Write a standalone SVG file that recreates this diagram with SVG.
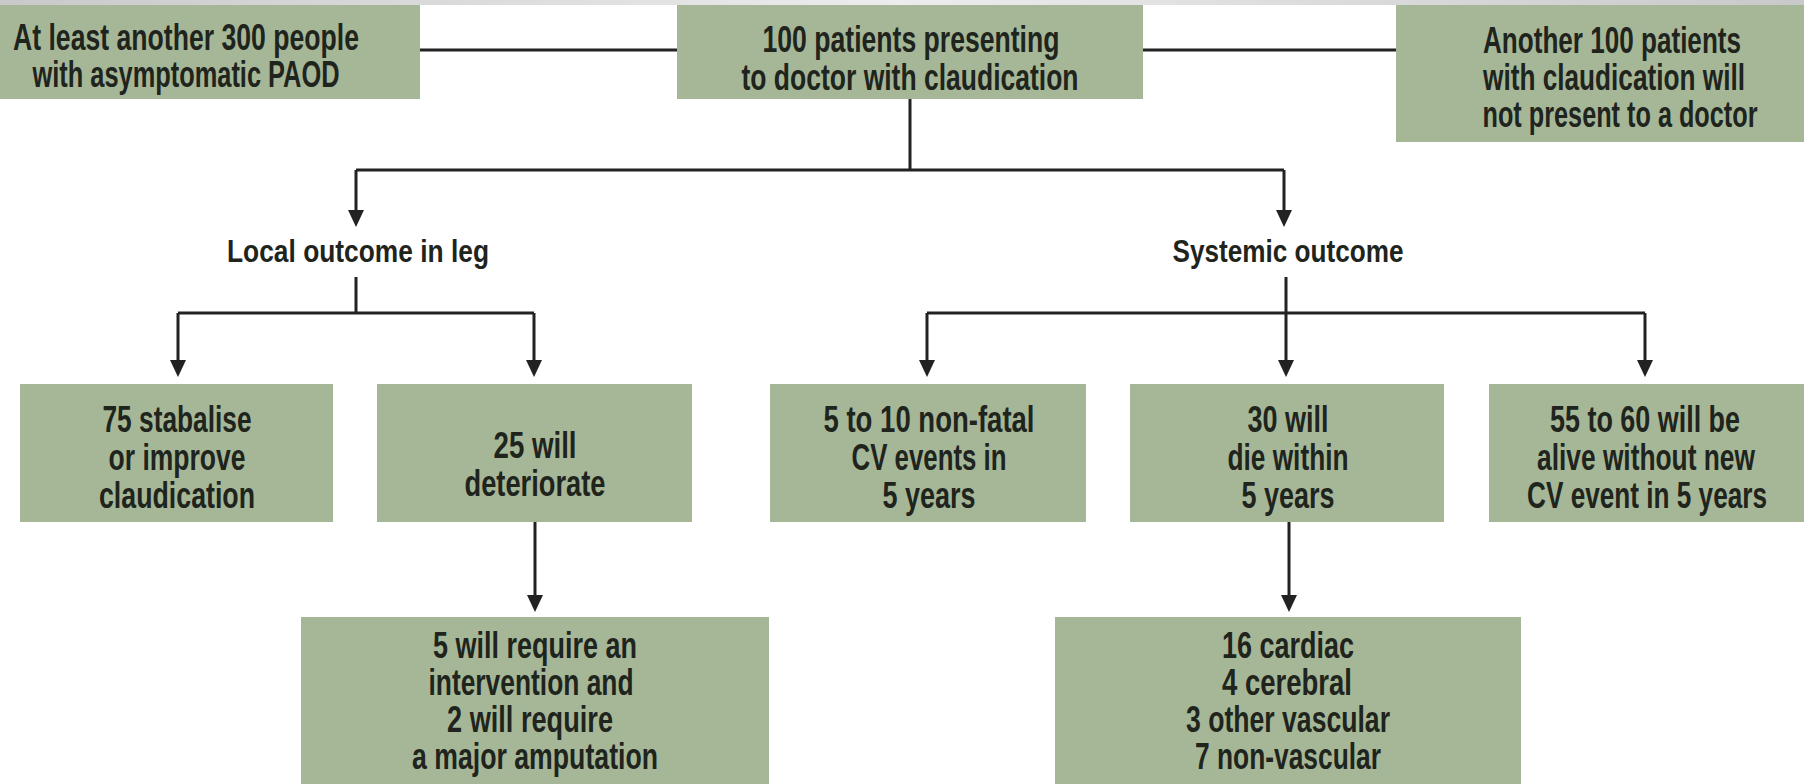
<svg xmlns="http://www.w3.org/2000/svg" width="1804" height="784" viewBox="0 0 1804 784">
<defs>
<linearGradient id="band" x1="0" y1="0" x2="1" y2="0">
<stop offset="0" stop-color="#c9c9c9"/>
<stop offset="0.5" stop-color="#ececec"/>
<stop offset="1" stop-color="#c9c9c9"/>
</linearGradient>
<marker id="arr" viewBox="0 0 17 16" markerWidth="17" markerHeight="16" refX="1" refY="8" orient="auto" markerUnits="userSpaceOnUse">
<path d="M0,0 L17,8 L0,16 z" fill="#222"/>
</marker>
<style>
.box{fill:#a6b798}
.t{font-family:"Liberation Sans",Arial,sans-serif;font-weight:bold;font-size:28px;fill:#1f241d;text-anchor:middle}
.c{fill:none;stroke:#222;stroke-width:3}
.a{fill:none;stroke:#222;stroke-width:3;marker-end:url(#arr)}
</style>
</defs>
<rect x="0" y="0" width="1804" height="784" fill="#ffffff"/>
<rect x="0" y="0" width="1804" height="5" fill="url(#band)"/>

<g id="connectors">
<line class="c" x1="420" y1="50" x2="677" y2="50"/>
<line class="c" x1="1143" y1="50" x2="1396" y2="50"/>
<line class="c" x1="910" y1="99" x2="910" y2="170"/>
<polyline class="c" points="356,170 1284,170"/>
<line class="a" x1="356" y1="170" x2="356" y2="211"/>
<line class="a" x1="1284" y1="170" x2="1284" y2="211"/>
<line class="c" x1="356" y1="277" x2="356" y2="313"/>
<polyline class="c" points="178,313 534,313"/>
<line class="a" x1="178" y1="313" x2="178" y2="361"/>
<line class="a" x1="534" y1="313" x2="534" y2="361"/>
<line class="c" x1="1286" y1="277" x2="1286" y2="313"/>
<polyline class="c" points="927,313 1645,313"/>
<line class="a" x1="927" y1="313" x2="927" y2="361"/>
<line class="a" x1="1286" y1="313" x2="1286" y2="361"/>
<line class="a" x1="1645" y1="313" x2="1645" y2="361"/>
<line class="a" x1="535" y1="522" x2="535" y2="596"/>
<line class="a" x1="1289" y1="522" x2="1289" y2="596"/>
</g>

<g id="asymptomatic">
<rect class="box" x="0" y="5" width="420" height="94"/>
<text class="t" transform="translate(186,50) scale(1,1.3)" textLength="346" lengthAdjust="spacingAndGlyphs">At least another 300 people</text>
<text class="t" transform="translate(186,87) scale(1,1.3)" textLength="307" lengthAdjust="spacingAndGlyphs">with asymptomatic PAOD</text>
</g>

<g id="presenting">
<rect class="box" x="677" y="5" width="466" height="94"/>
<text class="t" transform="translate(911,52) scale(1,1.3)" textLength="297" lengthAdjust="spacingAndGlyphs">100 patients presenting</text>
<text class="t" transform="translate(910,90) scale(1,1.3)" textLength="337" lengthAdjust="spacingAndGlyphs">to doctor with claudication</text>
</g>

<g id="not-presenting">
<rect class="box" x="1396" y="5" width="408" height="137"/>
<text class="t" transform="translate(1612,53) scale(1,1.3)" textLength="258" lengthAdjust="spacingAndGlyphs">Another 100 patients</text>
<text class="t" transform="translate(1614,90) scale(1,1.3)" textLength="262" lengthAdjust="spacingAndGlyphs">with claudication will</text>
<text class="t" transform="translate(1620,127) scale(1,1.3)" textLength="275" lengthAdjust="spacingAndGlyphs">not present to a doctor</text>
</g>

<g id="local">
<text class="t" transform="translate(358,262) scale(1,1.15)" textLength="262" lengthAdjust="spacingAndGlyphs">Local outcome in leg</text>
</g>

<g id="systemic">
<text class="t" transform="translate(1288,262) scale(1,1.15)" textLength="231" lengthAdjust="spacingAndGlyphs">Systemic outcome</text>
</g>

<g id="stabilise">
<rect class="box" x="20" y="384" width="313" height="138"/>
<text class="t" transform="translate(177,432) scale(1,1.3)" textLength="149" lengthAdjust="spacingAndGlyphs">75 stabalise</text>
<text class="t" transform="translate(177,470) scale(1,1.3)" textLength="137" lengthAdjust="spacingAndGlyphs">or improve</text>
<text class="t" transform="translate(177,508) scale(1,1.3)" textLength="156" lengthAdjust="spacingAndGlyphs">claudication</text>
</g>

<g id="deteriorate">
<rect class="box" x="377" y="384" width="315" height="138"/>
<text class="t" transform="translate(535,458) scale(1,1.3)" textLength="83" lengthAdjust="spacingAndGlyphs">25 will</text>
<text class="t" transform="translate(535,496) scale(1,1.3)" textLength="141" lengthAdjust="spacingAndGlyphs">deteriorate</text>
</g>

<g id="nonfatal">
<rect class="box" x="770" y="384" width="316" height="138"/>
<text class="t" transform="translate(929,432) scale(1,1.3)" textLength="211" lengthAdjust="spacingAndGlyphs">5 to 10 non-fatal</text>
<text class="t" transform="translate(929,470) scale(1,1.3)" textLength="155" lengthAdjust="spacingAndGlyphs">CV events in</text>
<text class="t" transform="translate(929,508) scale(1,1.3)" textLength="93" lengthAdjust="spacingAndGlyphs">5 years</text>
</g>

<g id="die">
<rect class="box" x="1130" y="384" width="314" height="138"/>
<text class="t" transform="translate(1288,432) scale(1,1.3)" textLength="81" lengthAdjust="spacingAndGlyphs">30 will</text>
<text class="t" transform="translate(1288,470) scale(1,1.3)" textLength="121" lengthAdjust="spacingAndGlyphs">die within</text>
<text class="t" transform="translate(1288,508) scale(1,1.3)" textLength="93" lengthAdjust="spacingAndGlyphs">5 years</text>
</g>

<g id="alive">
<rect class="box" x="1489" y="384" width="315" height="138"/>
<text class="t" transform="translate(1645,432) scale(1,1.3)" textLength="190" lengthAdjust="spacingAndGlyphs">55 to 60 will be</text>
<text class="t" transform="translate(1646,470) scale(1,1.3)" textLength="218" lengthAdjust="spacingAndGlyphs">alive without new</text>
<text class="t" transform="translate(1647,508) scale(1,1.3)" textLength="240" lengthAdjust="spacingAndGlyphs">CV event in 5 years</text>
</g>

<g id="intervention">
<rect class="box" x="301" y="617" width="468" height="167"/>
<text class="t" transform="translate(535,658) scale(1,1.3)" textLength="204" lengthAdjust="spacingAndGlyphs">5 will require an</text>
<text class="t" transform="translate(531,695) scale(1,1.3)" textLength="205" lengthAdjust="spacingAndGlyphs">intervention and</text>
<text class="t" transform="translate(530,732) scale(1,1.3)" textLength="166" lengthAdjust="spacingAndGlyphs">2 will require</text>
<text class="t" transform="translate(535,769) scale(1,1.3)" textLength="246" lengthAdjust="spacingAndGlyphs">a major amputation</text>
</g>

<g id="causes">
<rect class="box" x="1055" y="617" width="466" height="167"/>
<text class="t" transform="translate(1288,658) scale(1,1.3)" textLength="132" lengthAdjust="spacingAndGlyphs">16 cardiac</text>
<text class="t" transform="translate(1287,695) scale(1,1.3)" textLength="130" lengthAdjust="spacingAndGlyphs">4 cerebral</text>
<text class="t" transform="translate(1288,732) scale(1,1.3)" textLength="204" lengthAdjust="spacingAndGlyphs">3 other vascular</text>
<text class="t" transform="translate(1288,769) scale(1,1.3)" textLength="186" lengthAdjust="spacingAndGlyphs">7 non-vascular</text>
</g>
</svg>
